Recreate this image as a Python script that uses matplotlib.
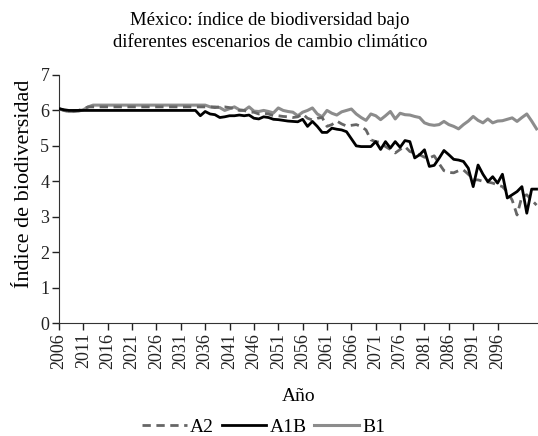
import numpy as np
from matplotlib import pyplot as plt

plt.rcParams['font.family'] = ['Liberation Serif', 'DejaVu Serif']

years = np.arange(2006, 2105)
tick_years = list(range(2006, 2100, 5))

a1b = ([6.05, 6.02, 6.0, 6.0, 6.0, 6.0] + [6.0] * 23 +
       [5.85, 5.97, 5.9, 5.88, 5.8, 5.82, 5.85, 5.85, 5.87, 5.85,
        5.87, 5.78, 5.76, 5.82, 5.8, 5.75, 5.74, 5.72, 5.7, 5.69,
        5.68, 5.75, 5.55, 5.69, 5.55, 5.38, 5.38, 5.5, 5.47, 5.45,
        5.4, 5.2, 5.0, 4.98, 4.98, 4.98, 5.12, 4.9, 5.12, 4.94,
        5.12, 4.96, 5.15, 5.12, 4.66, 4.75, 4.89, 4.42, 4.45, 4.65,
        4.87, 4.75, 4.62, 4.6, 4.56, 4.37, 3.85, 4.46, 4.2, 3.99,
        4.13, 3.95, 4.2, 3.53, 3.62, 3.71, 3.85, 3.1, 3.78, 3.78])

a2 = ([6.05, 6.0, 5.98, 5.98, 6.0, 6.05] + [6.1] * 25 +
      [6.1, 6.08, 6.1, 6.1, 6.08, 6.05, 6.0, 6.0, 5.95, 5.95,
       5.9, 5.92, 5.9, 5.85, 5.85, 5.83, 5.82, 5.8, 5.82, 5.9,
       5.78, 5.73, 5.78, 5.8, 5.55, 5.6, 5.7, 5.62, 5.56, 5.58,
       5.6, 5.55, 5.45, 5.17, 5.12, 5.1, 4.98, 4.9, 4.8, 4.9,
       4.98, 4.84, 4.8, 4.75, 4.68, 4.66, 4.72, 4.5, 4.3, 4.25,
       4.24, 4.3, 4.32, 4.2, 4.04, 4.04, 4.0, 3.98, 3.95, 3.9,
       3.85, 3.7, 3.47, 3.05, 3.57, 3.62, 3.47, 3.33])

b1 = ([6.05, 6.0, 5.97, 5.97, 5.98, 6.02, 6.1] + [6.15] * 24 +
      [6.1, 6.1, 6.08, 6.0, 6.05, 6.1, 6.02, 6.0, 6.1, 5.98,
       5.97, 6.0, 5.97, 5.93, 6.07, 6.0, 5.97, 5.95, 5.85, 5.95,
       6.0, 6.07, 5.9, 5.82, 6.0, 5.92, 5.87, 5.96, 6.0, 6.04,
       5.9, 5.8, 5.72, 5.9, 5.85, 5.74, 5.85, 5.97, 5.76, 5.92,
       5.88, 5.87, 5.83, 5.8, 5.65, 5.6, 5.58, 5.6, 5.69, 5.6,
       5.55, 5.48, 5.6, 5.7, 5.83, 5.72, 5.65, 5.76, 5.65, 5.7,
       5.71, 5.75, 5.79, 5.69, 5.8, 5.9, 5.7, 5.48])

fig = plt.figure(figsize=(5.38, 4.36), dpi=100)
ax = fig.add_axes([0.1097, 0.259, 0.8903, 0.569])

ax.plot(years[:len(b1)], b1, color='#8c8c8c', lw=2.2, label='B1', zorder=2)
ax.plot(years[:len(a2)], a2, color='#666666', lw=2, dashes=(3, 2), label='A2', zorder=3)
ax.plot(years[:len(a1b)], a1b, color='black', lw=2, label='A1B', zorder=4)

ax.set_xlim(2006, 2104.3)
ax.set_ylim(0, 7)
ax.set_xticks(tick_years)
ax.set_xticklabels([str(y) for y in tick_years], rotation=90)
ax.set_yticks(range(0, 8))
ax.tick_params(direction='out', length=5, width=1, labelsize=13, colors='#222222', pad=2)
for side in ['top', 'right']:
    ax.spines[side].set_visible(False)
for side in ['left', 'bottom']:
    ax.spines[side].set_color('#333333')

ax.set_xlabel('Año', fontsize=14, labelpad=14)
ax.set_ylabel('Índice de biodiversidad', fontsize=16)
ax.yaxis.set_label_coords(-0.052, 0.56)
fig.text(0.502, 0.972, 'México: índice de biodiversidad bajo\ndiferentes escenarios de cambio climático',
         ha='center', va='top', fontsize=13.5, linespacing=1.4)

handles, labels = ax.get_legend_handles_labels()
order = [1, 2, 0]
fig.legend([handles[i] for i in order], [labels[i] for i in order],
           loc='lower center', bbox_to_anchor=(0.49, -0.04), ncol=3, frameon=False,
           fontsize=14, handlelength=2.3, handletextpad=0.15, columnspacing=0.4)

fig.savefig('out.png', dpi=100)
